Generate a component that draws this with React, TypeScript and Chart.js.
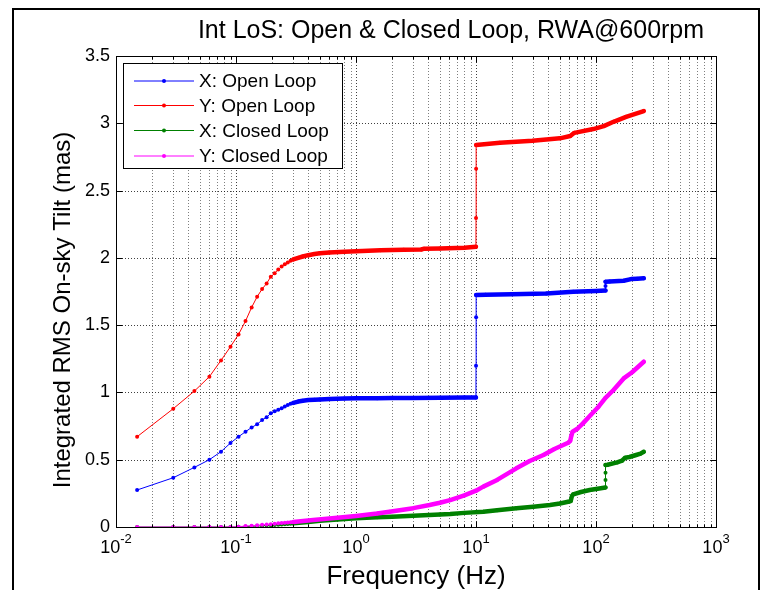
import React, { useEffect, useRef } from 'react';
import { Chart, registerables } from 'chart.js';

Chart.register(...registerables);

const TITLE = 'Int LoS: Open & Closed Loop, RWA@600rpm';
const X_LABEL = 'Frequency (Hz)';
const Y_LABEL = 'Integrated RMS On-sky Tilt (mas)';
const SERIES_NAMES = ['X: Open Loop', 'Y: Open Loop', 'X: Closed Loop', 'Y: Closed Loop'];
const SERIES_COLORS = ['#0000ff', '#ff0000', '#008000', '#ff00ff'];
const X_MIN = 0.01;
const X_MAX = 1000;
const X_DECADES = [-2, -1, 0, 1, 2, 3];
const Y_MIN = 0;
const Y_MAX = 3.5;
const Y_TICKS = [0, 0.5, 1, 1.5, 2, 2.5, 3, 3.5];

// X: Open Loop
const xOpenFreq = [0.015, 0.03, 0.045, 0.06, 0.075, 0.09, 0.105, 0.12, 0.135, 0.15, 0.165, 0.18, 0.195, 0.21, 0.225, 0.24, 0.255, 0.27, 0.285, 0.3, 0.33, 0.36, 0.4, 0.45, 0.5, 0.6, 0.8, 1.0, 1.5, 2, 3, 5, 8, 9.99, 10.005, 10.02, 10.035, 12, 20, 38.6, 64.6, 100, 119.985, 120.0, 120.015, 130, 170, 196, 220, 250];
const xOpenVal = [0.275, 0.366, 0.443, 0.5, 0.56, 0.624, 0.671, 0.708, 0.74, 0.763, 0.795, 0.815, 0.845, 0.86, 0.872, 0.882, 0.895, 0.906, 0.915, 0.922, 0.932, 0.938, 0.943, 0.946, 0.948, 0.951, 0.954, 0.956, 0.957, 0.958, 0.959, 0.96, 0.962, 0.963, 1.199, 1.558, 1.724, 1.726, 1.73, 1.736, 1.748, 1.754, 1.757, 1.79, 1.823, 1.825, 1.83, 1.842, 1.845, 1.848];

// Y: Open Loop
const yOpenFreq = [0.015, 0.03, 0.045, 0.06, 0.075, 0.09, 0.105, 0.12, 0.135, 0.15, 0.165, 0.18, 0.195, 0.21, 0.225, 0.24, 0.255, 0.27, 0.285, 0.3, 0.33, 0.36, 0.4, 0.45, 0.5, 0.6, 0.8, 1.0, 1.6, 2.5, 3.5, 3.7, 5, 8, 9.99, 10.005, 10.02, 10.035, 15.8, 29.6, 50, 61, 66, 95, 116, 140, 178, 250];
const yOpenVal = [0.671, 0.879, 1.01, 1.117, 1.238, 1.34, 1.431, 1.53, 1.632, 1.711, 1.768, 1.81, 1.86, 1.885, 1.914, 1.935, 1.952, 1.965, 1.978, 1.988, 2.0, 2.01, 2.02, 2.028, 2.034, 2.04, 2.046, 2.05, 2.057, 2.06, 2.062, 2.068, 2.07, 2.075, 2.083, 2.296, 2.662, 2.838, 2.855, 2.87, 2.888, 2.905, 2.929, 2.957, 2.979, 3.011, 3.048, 3.091];

// X: Closed Loop
const xClosedFreq = [0.015, 0.03, 0.045, 0.06, 0.075, 0.09, 0.105, 0.12, 0.135, 0.15, 0.165, 0.18, 0.195, 0.21, 0.225, 0.24, 0.255, 0.27, 0.285, 0.3, 0.4, 0.5, 0.7, 1.0, 1.5, 2, 3, 5, 6.1, 8, 11.5, 15, 21.7, 30, 41.4, 50, 58.6, 61.5, 63, 64.6, 75, 88.6, 100, 119.985, 120.0, 120.015, 120.03, 125, 150, 165, 175, 190, 216, 235, 250];
const xClosedVal = [0, 0, 0, 0, 0, 0, 0.001, 0.003, 0.005, 0.007, 0.009, 0.011, 0.013, 0.015, 0.017, 0.019, 0.021, 0.023, 0.025, 0.027, 0.038, 0.046, 0.056, 0.065, 0.072, 0.077, 0.084, 0.093, 0.097, 0.105, 0.114, 0.125, 0.139, 0.15, 0.163, 0.175, 0.188, 0.192, 0.23, 0.243, 0.26, 0.275, 0.283, 0.294, 0.35, 0.403, 0.461, 0.463, 0.48, 0.493, 0.515, 0.52, 0.535, 0.545, 0.559];

// Y: Closed Loop
const yClosedFreq = [0.015, 0.03, 0.045, 0.06, 0.075, 0.09, 0.105, 0.12, 0.135, 0.15, 0.165, 0.18, 0.195, 0.21, 0.225, 0.24, 0.255, 0.27, 0.285, 0.3, 0.44, 0.7, 1.0, 1.5, 1.9, 3, 4.1, 5, 6.1, 8, 10, 11.5, 15, 21.7, 28, 36.5, 45, 58.6, 61, 62, 63.8, 70, 77.8, 90, 105, 120, 140, 170, 200, 250];
const yClosedVal = [0, 0, 0, 0, 0, 0, 0.002, 0.0075, 0.01, 0.013, 0.016, 0.019, 0.021, 0.024, 0.027, 0.029, 0.031, 0.034, 0.036, 0.038, 0.052, 0.068, 0.082, 0.1, 0.114, 0.14, 0.163, 0.18, 0.2, 0.235, 0.27, 0.3, 0.35, 0.436, 0.49, 0.535, 0.58, 0.626, 0.64, 0.67, 0.708, 0.73, 0.77, 0.83, 0.894, 0.96, 1.018, 1.104, 1.15, 1.228];

const SERIES_FREQ = [xOpenFreq, yOpenFreq, xClosedFreq, yClosedFreq];
const SERIES_VAL = [xOpenVal, yOpenVal, xClosedVal, yClosedVal];

const FONT = '"Liberation Sans", Arial, Helvetica, sans-serif';
const W = 773;
const H = 590;

const axesPlugin = {
  id: 'matlabAxes',
  beforeDatasetsDraw(chart: any) {
    const { ctx, chartArea: a, scales } = chart;
    const xs = scales.x;
    const ys = scales.y;
    ctx.save();
    ctx.lineWidth = 1;
    ctx.setLineDash([1, 2]);
    for (const d of X_DECADES) {
      for (let m = 1; m <= 9; m++) {
        const v = m * Math.pow(10, d);
        if (v <= X_MIN * 1.0001 || v >= X_MAX * 0.9999) continue;
        const px = Math.round(xs.getPixelForValue(v)) + 0.5;
        ctx.strokeStyle = m === 1 ? 'rgba(0,0,0,0.75)' : 'rgba(0,0,0,0.5)';
        ctx.beginPath();
        ctx.moveTo(px, a.top);
        ctx.lineTo(px, a.bottom);
        ctx.stroke();
      }
    }
    ctx.strokeStyle = 'rgba(0,0,0,0.75)';
    for (const t of Y_TICKS) {
      if (t <= Y_MIN || t >= Y_MAX) continue;
      const py = Math.round(ys.getPixelForValue(t)) + 0.5;
      ctx.beginPath();
      ctx.moveTo(a.left, py);
      ctx.lineTo(a.right, py);
      ctx.stroke();
    }
    ctx.restore();
  },
  afterDatasetsDraw(chart: any) {
    const { ctx, chartArea: a, scales } = chart;
    const xs = scales.x;
    const ys = scales.y;
    ctx.save();
    ctx.setLineDash([]);
    ctx.strokeStyle = '#000';
    ctx.lineWidth = 1;
    const L = Math.round(a.left) + 0.5;
    const R = Math.round(a.right) + 0.5;
    const T = Math.round(a.top) + 0.5;
    const B = Math.round(a.bottom) + 0.5;
    ctx.strokeRect(L, T, R - L, B - T);
    for (const d of X_DECADES) {
      for (let m = 1; m <= 9; m++) {
        const v = m * Math.pow(10, d);
        if (v < X_MIN * 0.9999 || v > X_MAX * 1.0001) continue;
        const px = Math.round(xs.getPixelForValue(v)) + 0.5;
        const len = m === 1 ? 6 : 3;
        ctx.beginPath();
        ctx.moveTo(px, B);
        ctx.lineTo(px, B - len);
        ctx.moveTo(px, T);
        ctx.lineTo(px, T + len);
        ctx.stroke();
      }
    }
    for (const t of Y_TICKS) {
      const py = Math.round(ys.getPixelForValue(t)) + 0.5;
      ctx.beginPath();
      ctx.moveTo(L, py);
      ctx.lineTo(L + 6, py);
      ctx.moveTo(R, py);
      ctx.lineTo(R - 6, py);
      ctx.stroke();
    }
    ctx.fillStyle = '#000';
    ctx.font = `18px ${FONT}`;
    ctx.textAlign = 'right';
    ctx.textBaseline = 'middle';
    for (const t of Y_TICKS) {
      ctx.fillText(String(t), a.left - 6, ys.getPixelForValue(t));
    }
    ctx.textAlign = 'left';
    ctx.textBaseline = 'alphabetic';
    for (const d of X_DECADES) {
      const px = xs.getPixelForValue(Math.pow(10, d));
      ctx.font = `18px ${FONT}`;
      const base = '10';
      const wb = ctx.measureText(base).width;
      ctx.font = `13px ${FONT}`;
      const ex = d < 0 ? '-' + Math.abs(d) : String(d);
      const we = ctx.measureText(ex).width;
      const start = px - (wb + we) / 2;
      ctx.font = `18px ${FONT}`;
      ctx.fillText(base, start, a.bottom + 26);
      ctx.font = `13px ${FONT}`;
      ctx.fillText(ex, start + wb, a.bottom + 16);
    }
    ctx.textAlign = 'center';
    ctx.font = `25px ${FONT}`;
    ctx.fillText(TITLE, 451, 38);
    ctx.font = `26px ${FONT}`;
    ctx.fillText(X_LABEL, (a.left + a.right) / 2, 584);
    ctx.save();
    ctx.translate(70, 310);
    ctx.rotate(-Math.PI / 2);
    ctx.font = `24px ${FONT}`;
    ctx.fillText(Y_LABEL, 0, 0);
    ctx.restore();
    const lx = 123, ly = 63, lw = 219, lh = 105;
    ctx.fillStyle = '#fff';
    ctx.fillRect(lx, ly, lw, lh);
    ctx.strokeStyle = '#000';
    ctx.strokeRect(lx + 0.5, ly + 0.5, lw, lh);
    ctx.font = `19px ${FONT}`;
    ctx.textAlign = 'left';
    ctx.textBaseline = 'middle';
    const rows = [81, 105.5, 130.5, 156];
    SERIES_NAMES.forEach((name, i) => {
      const ry = rows[i];
      ctx.strokeStyle = SERIES_COLORS[i];
      ctx.lineWidth = 1;
      ctx.beginPath();
      ctx.moveTo(134, ry);
      ctx.lineTo(194, ry);
      ctx.stroke();
      ctx.fillStyle = SERIES_COLORS[i];
      ctx.beginPath();
      ctx.arc(164, ry, 2, 0, Math.PI * 2);
      ctx.fill();
      ctx.fillStyle = '#000';
      ctx.fillText(name, 199, ry + 1);
    });
    ctx.restore();
  },
};

export default function App() {
  const ref = useRef<HTMLCanvasElement | null>(null);
  useEffect(() => {
    if (!ref.current) return;
    const datasets = SERIES_NAMES.map((name, i) => ({
      label: name,
      data: SERIES_FREQ[i].map((f, k) => ({ x: f, y: SERIES_VAL[i][k] })),
      borderColor: SERIES_COLORS[i],
      backgroundColor: SERIES_COLORS[i],
      pointBackgroundColor: SERIES_COLORS[i],
      pointBorderWidth: 0,
      pointRadius: 2,
      borderWidth: 1,
      borderCapStyle: 'round',
      borderJoinStyle: 'round',
      tension: 0,
      order: 3 - i,
      segment: {
        borderWidth: (c: any) =>
          c.p0.parsed.x >= 0.3 && Math.abs(c.p1.x - c.p0.x) >= 0.5 ? 4.5 : 1,
      },
    }));
    const chart = new Chart(ref.current, {
      type: 'line',
      data: { datasets: datasets as any },
      options: {
        animation: false,
        responsive: false,
        devicePixelRatio: 1,
        layout: { padding: { left: 0, right: W - 716, top: 56, bottom: 0 } },
        scales: {
          x: {
            type: 'logarithmic',
            min: X_MIN,
            max: X_MAX,
            ticks: { display: false },
            grid: { display: false },
            border: { display: false },
            afterFit: (s: any) => { s.height = H - 527; },
          },
          y: {
            type: 'linear',
            min: Y_MIN,
            max: Y_MAX,
            ticks: { display: false },
            grid: { display: false },
            border: { display: false },
            afterFit: (s: any) => { s.width = 116; },
          },
        },
        plugins: {
          legend: { display: false },
          tooltip: { enabled: false },
          title: { display: false },
        },
      },
      plugins: [axesPlugin],
    });
    return () => chart.destroy();
  }, []);
  return (
    <div style={{ position: 'fixed', left: 0, top: 0, width: W, height: H, background: '#fff', overflow: 'hidden' }}>
      <canvas ref={ref} width={W} height={H} style={{ position: 'absolute', left: 0, top: 0, width: W, height: H }} />
      <div style={{ position: 'absolute', left: 12, top: 8, width: 744, height: 600, borderLeft: '2px solid #000', borderTop: '2px solid #000', borderRight: '2px solid #000', pointerEvents: 'none' }} />
    </div>
  );
}
